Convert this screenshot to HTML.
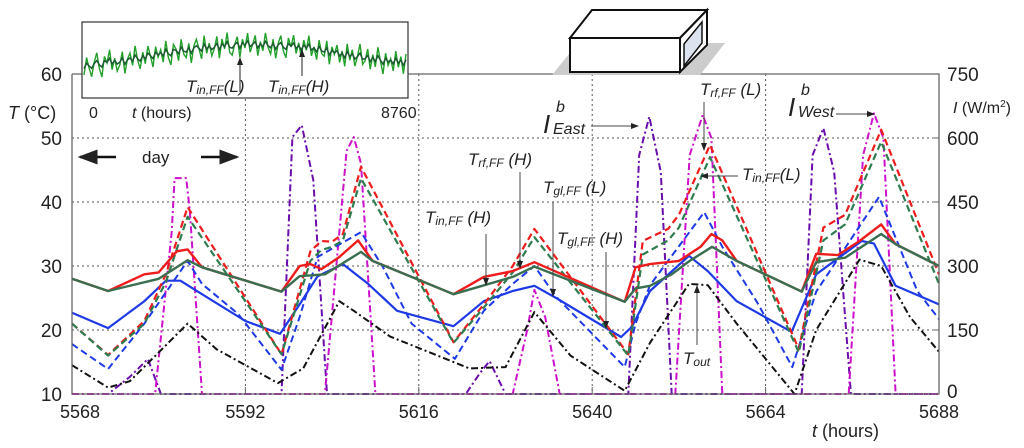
<!DOCTYPE html>
<html><head><meta charset="utf-8"><style>
body{margin:0;background:#fff;}
svg{display:block;font-family:"Liberation Sans",sans-serif;}
.t{font-size:16px;fill:#222;}
.lab{font-size:17px;font-style:italic;fill:#222;}
.sub{font-size:12px;}
</style></head><body>
<svg id="c" width="1024" height="448" viewBox="0 0 1024 448">
<defs><marker id="ah" markerWidth="8" markerHeight="8" refX="7" refY="4" orient="auto"><path d="M0,1 L8,4 L0,7 z" fill="#222"/></marker></defs>
<g id="grid"></g>
<g id="series"></g>
<g id="frame"></g>
<g id="ticks"></g>
<g>
<polygon points="552,75 700,75 725,43 578,43" fill="#ccc"/>
<polygon points="570,38 570,72 680,72 680,38" fill="#fff" stroke="#111" stroke-width="2"/>
<polygon points="570,38 592,10 707,10 680,38" fill="#fff" stroke="#111" stroke-width="2"/>
<polygon points="680,38 707,10 707,45 680,72" fill="#fff" stroke="#111" stroke-width="2"/>
<polygon points="684,44 702,22 702,43 684,66" fill="#dde3ee" stroke="#111" stroke-width="1.5"/>
</g>
<g id="inset">
<rect x="82" y="22" width="326" height="76" fill="#fff" stroke="#333" stroke-width="1.2"/>
</g>
<text class="t" x="89" y="118">0</text>
<text class="t" x="132" y="118"><tspan font-style="italic">t</tspan> (hours)</text>
<text class="t" x="381" y="118">8760</text>
<text class="lab" x="186" y="92">T<tspan class="sub" dy="2">in,FF</tspan><tspan dy="-2">(L)</tspan></text>
<text class="lab" x="268" y="92">T<tspan class="sub" dy="2">in,FF</tspan><tspan dy="-2">(H)</tspan></text>
<line x1="240" y1="92" x2="240" y2="58" stroke="#222" marker-end="url(#ah)"/>
<line x1="302" y1="76" x2="302" y2="50" stroke="#222" marker-end="url(#ah)"/>
<text class="t" x="8" y="119" style="font-size:18px"><tspan font-style="italic">T</tspan> (°C)</text>
<text class="t" x="953" y="113"><tspan font-style="italic">I</tspan> (W/m<tspan style="font-size:10px" dy="-6">2</tspan><tspan dy="6">)</tspan></text>
<text class="t" x="812" y="437" style="font-size:18px"><tspan font-style="italic">t</tspan> (hours)</text>
<g>
<line x1="116" y1="157" x2="80" y2="157" stroke="#111" stroke-width="2.5" marker-end="url(#ah)"/>
<line x1="201" y1="157" x2="237" y2="157" stroke="#111" stroke-width="2.5" marker-end="url(#ah)"/>
<text class="t" x="142" y="163" style="font-size:17px">day</text>
</g>
<g>
<text class="lab" x="468" y="165">T<tspan class="sub" dy="2">rf,FF</tspan><tspan dy="-2"> (H)</tspan></text>
<line x1="520" y1="172" x2="520" y2="268" stroke="#444" marker-end="url(#ah)"/>
<text class="lab" x="425" y="223">T<tspan class="sub" dy="2">in,FF</tspan><tspan dy="-2"> (H)</tspan></text>
<line x1="486" y1="234" x2="486" y2="285" stroke="#444" marker-end="url(#ah)"/>
<text class="lab" x="543" y="193">T<tspan class="sub" dy="2">gl,FF</tspan><tspan dy="-2"> (L)</tspan></text>
<line x1="553" y1="202" x2="553" y2="296" stroke="#444" marker-end="url(#ah)"/>
<text class="lab" x="557" y="244">T<tspan class="sub" dy="2">gl,FF</tspan><tspan dy="-2"> (H)</tspan></text>
<line x1="606" y1="252" x2="606" y2="328" stroke="#444" marker-end="url(#ah)"/>
<text class="lab" x="683" y="364">T<tspan class="sub" dy="2">out</tspan></text>
<line x1="697" y1="345" x2="697" y2="286" stroke="#444" marker-end="url(#ah)"/>
<text class="lab" x="543" y="133" style="font-size:26px">I</text>
<text class="lab" x="556" y="112" style="font-size:16px">b</text>
<text class="lab" x="553" y="134" style="font-size:16px">East</text>
<line x1="591" y1="126" x2="638" y2="126" stroke="#444" marker-end="url(#ah)"/>
<text class="lab" x="700" y="95">T<tspan class="sub" dy="2">rf,FF</tspan><tspan dy="-2"> (L)</tspan></text>
<line x1="704" y1="102" x2="704" y2="150" stroke="#444" marker-end="url(#ah)"/>
<text class="lab" x="742" y="180">T<tspan class="sub" dy="2">in,FF</tspan><tspan dy="-2">(L)</tspan></text>
<line x1="738" y1="176" x2="701" y2="176" stroke="#444" marker-end="url(#ah)"/>
<text class="lab" x="788" y="116" style="font-size:26px">I</text>
<text class="lab" x="801" y="95" style="font-size:16px">b</text>
<text class="lab" x="798" y="117" style="font-size:16px">West</text>
<line x1="836" y1="114" x2="874" y2="114" stroke="#444" marker-end="url(#ah)"/>
</g>
<script>
const xTicks=[5568,5592,5616,5640,5664,5688];
const yTicksLeft=[10,20,30,40,50,60];
const yTicksRight=[0,150,300,450,600,750];
const toutH=[5568,5573,5576,5584,5588,5596.5,5600,5605,5607,5612,5623,5628,5632,5637,5644.5,5648,5653.4,5656,5660,5668,5671,5677,5680,5684,5688];
const toutV=[14.5,11,12,21,17,11.7,14,24.5,23,19,14,14.2,22.8,16,10.5,18,27.2,27,21,10,20,31,30,22,16.6];
const tinHH=[5568,5573,5578,5580,5582.5,5584,5586,5597,5599.5,5601,5602.5,5605,5607.6,5609.6,5620.8,5625,5629,5632,5644.5,5646,5648,5652,5655,5656.5,5658,5660,5669,5671,5674,5677,5680,5682,5688];
const tinHV=[28,26.1,28.7,29,32.3,32.6,29.8,26,30,30.3,29.5,31.4,34,30.8,25.6,28.3,29.2,30.6,24.4,29.8,30.3,30.8,33,35,34,30.8,26,31.9,31.7,33.9,36.5,33.4,30];
const tinLH=[5568,5573,5580,5584,5586,5597,5599.5,5603,5608,5609.6,5620.8,5629,5632,5644.5,5646,5648,5651,5653.5,5656.6,5660,5669,5671,5675,5680,5682,5688];
const tinLV=[28,26.1,28,30.9,29.8,26,28.4,28.7,32.2,30.8,25.6,28.3,29.9,24.4,26.5,26.9,28.7,30.8,33,30.8,26,30.6,31.3,35,33.4,30];
const tglHH=[5568,5573,5578,5581,5583,5586,5592,5596.8,5599.5,5602,5605.5,5609,5613,5620.8,5625,5629,5632,5635,5644,5645.5,5648,5653.4,5656,5660,5667.6,5671,5677.3,5679,5682,5688];
const tglHV=[22.7,20.3,24.5,27.7,27.7,25.6,21.4,19.4,24,28.4,30.3,27.2,23,20.6,24.5,26.1,26.9,25,18.9,20.5,26.1,31.6,29.2,24.5,19.7,28.7,33.9,33.5,26.9,24];
const tgdHH=[5568,5573,5578,5584,5586,5591,5597,5599.5,5602,5608,5611,5615,5621,5625,5629,5632,5635,5644.5,5646,5648,5655.5,5658,5663,5667.7,5671,5679.7,5685,5688];
const tgdHV=[17.8,13.9,21,30.8,27.2,22.5,13.8,22,31.4,35.3,29.9,21,15.5,23,27.2,30,25.2,14.2,21,27,38.4,33,24,14.2,26,40.8,26.1,21.7];
const trfLH=[5568,5573,5578,5581,5584,5597,5601,5602.5,5604,5605.5,5608,5620.8,5625,5629,5632,5645,5647,5650.5,5652,5656.3,5668.6,5672,5675,5680,5688];
const trfLV=[21,16.1,21.4,28.7,39.2,16.2,32.3,33.9,33.8,35,45.5,18.1,24,30,35.8,16.2,33.9,35.8,38,48.9,17,36,38,51.3,28.7];
const tglLH=[5568,5573,5578,5581,5584,5597,5601,5602.5,5604,5605.5,5608,5620.8,5625,5629,5632,5645,5647,5650.5,5652,5656.3,5668.6,5672,5675,5680,5688];
const tglLV=[21,16,21,27.5,37.7,16.2,30.8,32.5,33,34,43.7,18,23.5,29,34.5,16,31.8,34,36,47,16.5,34,36.5,49.4,27.2];
const iEastH=[5568,5573,5576,5578.5,5580.3,5597,5598.5,5599.8,5601.4,5603.3,5622.5,5624.5,5625.8,5628,5645,5646.5,5647.9,5649.5,5651,5669,5670.5,5672,5673.5,5675.8,5688];
const iEastV=[0,0,40,82,0,0,602,630,501,0,0,50,77,0,0,560,650,520,0,0,560,623,520,0,0];
const iWestH=[5568,5579.5,5581.8,5582.2,5583.8,5584.3,5586,5603,5606,5607,5608,5610,5629,5631,5632,5633.5,5635.5,5651.5,5653.5,5655.3,5656.5,5658,5675.5,5677.5,5679,5680.3,5682,5688];
const iWestV=[0,0,380,506,506,430,0,0,570,602,540,0,0,150,244,180,0,0,560,654,600,0,0,560,658,600,0,0];
const insetMean=[66,62,60,55,51,48,46,44,45,46,48,53,57,60,62];
const insetNoise=[9,-8,3,12,-2,-11,5,14,-6,1,-12,8,-3,10,4,-9,13,-1,-7,6,-13,2,11,-5,7,-10,0,12,-8,3,-4,9,-12,5,13,-7,-2,10,-11,4,8,-6,14,-3,-9,1,11,-12,6,-4,9,2,-10,12,-7,3,-13,7,10,-1,-8,13,-5,4,-11,8,0,-9,11,-3,6,-12,2,9,-6,13,-2,-10,5,12,-8,1,-11,7,-4,10,-7,3,-12,8,-1,11,-9,4,6,-10,13,-5,2,-8,9,-3,12,-11,5,-6,10,0,-13,7,3,-9,11,-4,8,-12,1,14,-7,5,-2,10,-10,6,-5,12,-8];
const X0=72,X1=939,Y0=394,Y1=74;
const sx=h=>X0+(h-5568)/120*(X1-X0);
const sy=t=>Y0-(t-10)/50*(Y0-Y1);
const sr=i=>Y0-i/750*(Y0-Y1);
const NS='http://www.w3.org/2000/svg';
function mk(tag,parent,attrs){const e=document.createElementNS(NS,tag);for(const k in attrs)e.setAttribute(k,attrs[k]);parent.appendChild(e);return e;}
const G=document.getElementById('grid'),S=document.getElementById('series'),F=document.getElementById('frame'),T=document.getElementById('ticks');
yTicksLeft.forEach(v=>{if(v>10&&v<60){const l=mk('line',G,{x1:X0,x2:X1,y1:sy(v),y2:sy(v),stroke:'#555','stroke-dasharray':'2,3','stroke-width':1});

}});
xTicks.forEach(v=>{if(v>5568&&v<5688){const l=mk('line',G,{x1:sx(v),x2:sx(v),y1:Y1,y2:Y0,stroke:'#555','stroke-dasharray':'2,3','stroke-width':1});

}});
function series(hs,vs,scale,color,dash,w,name){
 const p=mk('polyline',S,{points:hs.map((h,i)=>sx(h).toFixed(1)+','+scale(vs[i]).toFixed(1)).join(' '),fill:'none',stroke:color,'stroke-width':w,'stroke-dasharray':dash,'stroke-linejoin':'round'});
 
 
}
series(iEastH,iEastV,sr,'#6a0dad','7,3,2,3',2,'i-east-line');
series(iWestH,iWestV,sr,'#cc10cc','7,3,2,3',2,'i-west-line');
series(toutH,toutV,sy,'#111','7,3,2,3',2,'t-out-line');
series(tgdHH,tgdHV,sy,'#1e3ae6','7,4',2,'t-gl-h-line');
series(tglHH,tglHV,sy,'#1e3ae6','',2.2,'t-in-h-blue-line');
series(trfLH,trfLV,sy,'#ee1c1c','7,4',2.2,'t-rf-l-line');
series(tglLH,tglLV,sy,'#2e7d50','7,4',2.2,'t-gl-l-line');
series(tinHH,tinHV,sy,'#ee1c1c','',2.4,'t-rf-h-line');
series(tinLH,tinLV,sy,'#3a6e50','',2.4,'t-in-l-line');
const fr=mk('path',F,{d:`M${X0},${Y1} L${X0},${Y0} L${X1},${Y0} L${X1},${Y1} L${X0},${Y1}`,fill:'none',stroke:'#666','stroke-width':1.3});


yTicksLeft.forEach(v=>{const t=mk('text',T,{x:62,y:sy(v)+7,'text-anchor':'end','font-size':19,fill:'#222'});t.textContent=v;

});
yTicksRight.forEach(v=>{const t=mk('text',T,{x:947,y:sr(v)+(v==0?4:7),'font-size':19,fill:'#222'});t.textContent=v;


mk('line',T,{x1:X1-7,x2:X1,y1:sr(v),y2:sr(v),stroke:'#666'});});
xTicks.forEach(v=>{const t=mk('text',T,{x:sx(v)+(v==5568?8:0),y:418,'text-anchor':'middle','font-size':18,fill:'#222'});t.textContent=v;


mk('line',T,{x1:sx(v),x2:sx(v),y1:Y0,y2:Y0-7,stroke:'#666'});});
const I=document.getElementById('inset');
const n=insetNoise.length,mean=i=>{const f=i/(n-1)*(insetMean.length-1),a=Math.floor(f),b=Math.min(a+1,insetMean.length-1);return insetMean[a]+(insetMean[b]-insetMean[a])*(f-a);};
const ix=i=>84+i/(n-1)*322;
const ip=mk('polyline',I,{points:insetNoise.map((d,i)=>ix(i).toFixed(1)+','+(mean(i)+d).toFixed(1)).join(' '),fill:'none',stroke:'#22a12a','stroke-width':1.4});


const ip2=mk('polyline',I,{points:insetNoise.map((d,i)=>ix(i).toFixed(1)+','+(mean(i)+d*0.3).toFixed(1)).join(' '),fill:'none',stroke:'#1d5a32','stroke-width':1.5});


</script>
</svg>
</body></html>
